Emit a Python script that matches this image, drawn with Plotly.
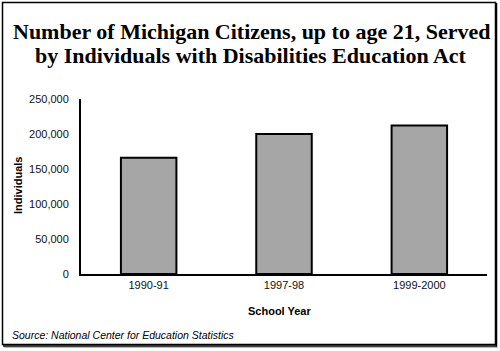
import plotly.graph_objects as go

categories = ["1990-91", "1997-98", "1999-2000"]
values = [166000, 200000, 212000]
y_ticks = [0, 50000, 100000, 150000, 200000, 250000]
y_tick_labels = ["0", "50,000", "100,000", "150,000", "200,000", "250,000"]
title_lines = ["Number of Michigan Citizens, up to age 21, Served",
               "by Individuals with Disabilities Education Act"]

W, H = 500, 351
L, R, T, B = 81, 13, 99, 77
pw, ph = W - L - R, H - T - B

def px(x):
    return (x - L) / pw

def py(y):
    return (H - B - y) / ph

fig = go.Figure(go.Bar(
    x=categories, y=values,
    marker=dict(color="#a6a6a6", line=dict(color="black", width=2)),
    width=0.41,
))

fig.update_layout(
    width=W, height=H,
    margin=dict(l=L, r=R, t=T, b=B),
    paper_bgcolor="white", plot_bgcolor="white",
    showlegend=False,
    font=dict(family="Liberation Sans, Arial", size=11, color="black"),
)
fig.update_xaxes(
    range=[-0.5, 2.5], showline=True, linecolor="black", linewidth=2,
    showgrid=False, ticks="", tickfont=dict(size=11, color="#111"),
    fixedrange=True,
)
fig.update_yaxes(
    range=[0, 250000], tickvals=y_ticks, ticktext=y_tick_labels,
    showline=True, linecolor="black", linewidth=2, showgrid=False,
    zeroline=False, ticks="", ticklabelstandoff=8,
    tickfont=dict(size=11, color="#111"), fixedrange=True,
)

title_font = dict(family="Liberation Serif, Times New Roman", size=22, color="black")
annotations = [
    dict(text="<b>" + title_lines[0] + "</b>", x=px(251), y=py(31), xref="paper", yref="paper",
         showarrow=False, xanchor="center", yanchor="middle", font=title_font),
    dict(text="<b>" + title_lines[1] + "</b>", x=px(251), y=py(55), xref="paper", yref="paper",
         showarrow=False, xanchor="center", yanchor="middle", font=title_font),
    dict(text="<b>Individuals</b>", x=px(18), y=py(186), xref="paper", yref="paper",
         showarrow=False, textangle=-90, xanchor="center", yanchor="middle",
         font=dict(size=11, color="black")),
    dict(text="<b>School Year</b>", x=px(279), y=py(311), xref="paper", yref="paper",
         showarrow=False, xanchor="center", yanchor="middle",
         font=dict(size=11, color="black")),
    dict(text="<i>Source: National Center for Education Statistics</i>", x=px(10), y=py(335),
         xref="paper", yref="paper", showarrow=False, xanchor="left", yanchor="middle",
         font=dict(size=10.5, color="black")),
]
fig.update_layout(annotations=annotations)

shapes = [
    dict(type="rect", xref="paper", yref="paper", x0=px(2.5), x1=px(495.5), y0=py(2.5), y1=py(344.5),
         line=dict(color="black", width=1.5)),
    dict(type="line", xref="paper", yref="paper", x0=px(496.5), x1=px(496.5), y0=py(3), y1=py(346.5),
         line=dict(color="black", width=1.5)),
    dict(type="line", xref="paper", yref="paper", x0=px(3), x1=px(497), y0=py(346), y1=py(346),
         line=dict(color="black", width=1.5)),
    dict(type="line", xref="paper", yref="paper", x0=px(4), x1=px(498), y0=py(347.5), y1=py(347.5),
         line=dict(color="#bbbbbb", width=1)),
]
fig.update_layout(shapes=shapes)

fig.write_html("out.html", config={"displayModeBar": False})
